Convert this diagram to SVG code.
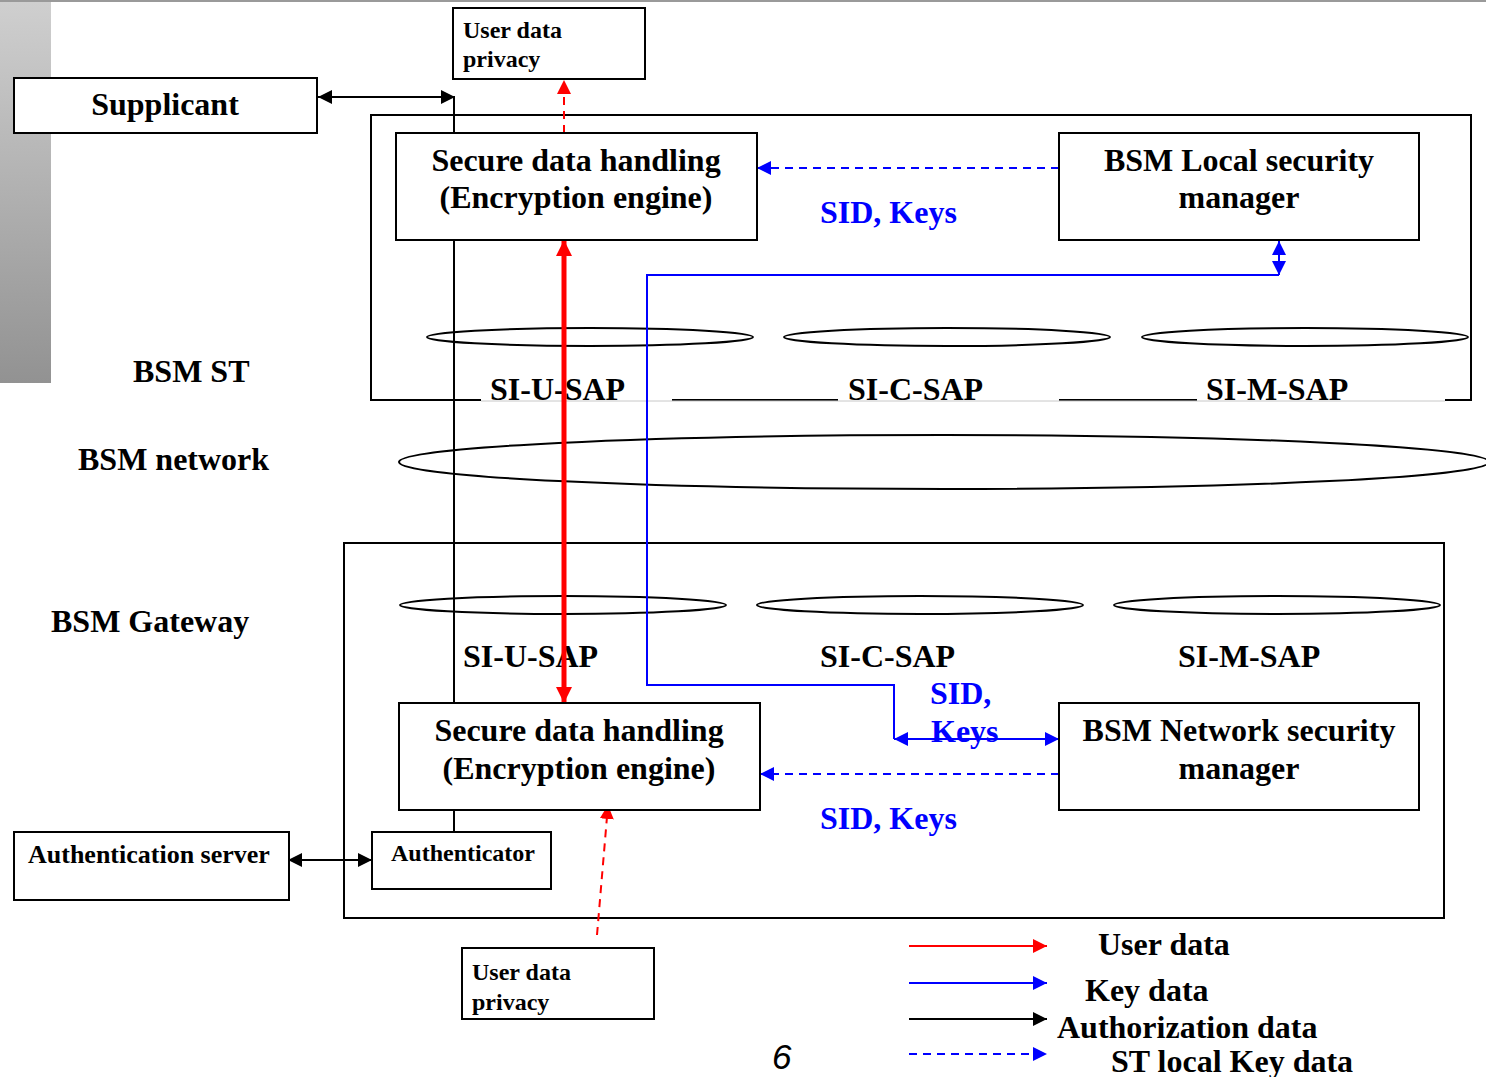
<svg xmlns="http://www.w3.org/2000/svg" width="1486" height="1077" viewBox="0 0 1486 1077">
<style>
.box{fill:#fff;stroke:#000;stroke-width:2}
.frame{fill:none;stroke:#000;stroke-width:2}
.ell{fill:none;stroke:#000;stroke-width:2}
.t{font-family:"Liberation Serif","Times New Roman",serif;font-weight:bold;font-size:32px;fill:#000}
.s{font-family:"Liberation Serif","Times New Roman",serif;font-weight:bold;font-size:24px;fill:#000}
.b{fill:#0000ff}
.mid{text-anchor:middle}
.blk{stroke:#000;stroke-width:2;fill:none}
.blu{stroke:#0000ff;stroke-width:2;fill:none}
.bld{stroke:#0000ff;stroke-width:2;fill:none;stroke-dasharray:8 6}
.red{stroke:#ff0000;stroke-width:2;fill:none}
.rdd{stroke:#ff0000;stroke-width:2;fill:none;stroke-dasharray:8 6}
</style>
<defs>
<linearGradient id="strip" x1="0" y1="0" x2="0" y2="1">
<stop offset="0" stop-color="#cfcfcf"/>
<stop offset="1" stop-color="#929292"/>
</linearGradient>
<marker id="mk" viewBox="0 0 14 14" refX="14" refY="7" markerWidth="14" markerHeight="14" markerUnits="userSpaceOnUse" orient="auto-start-reverse"><path d="M0,0 L14,7 L0,14 z" fill="#000"/></marker>
<marker id="mb" viewBox="0 0 14 14" refX="14" refY="7" markerWidth="14" markerHeight="14" markerUnits="userSpaceOnUse" orient="auto-start-reverse"><path d="M0,0 L14,7 L0,14 z" fill="#0000ff"/></marker>
<marker id="mr" viewBox="0 0 14 14" refX="14" refY="7" markerWidth="14" markerHeight="14" markerUnits="userSpaceOnUse" orient="auto-start-reverse"><path d="M0,0 L14,7 L0,14 z" fill="#ff0000"/></marker>
<marker id="mR" viewBox="0 0 16 16" refX="16" refY="8" markerWidth="16" markerHeight="16" markerUnits="userSpaceOnUse" orient="auto-start-reverse"><path d="M0,0 L16,8 L0,16 z" fill="#ff0000"/></marker>
</defs>
<rect x="0" y="0" width="1486" height="1077" fill="#fff"/>
<rect x="0" y="0" width="1486" height="2" fill="#9a9a9a"/>
<rect x="0" y="2" width="51" height="381" fill="url(#strip)"/>

<g id="labels">
<text class="t" x="133" y="382">BSM ST</text>
<text class="t" x="78" y="470">BSM network</text>
<text class="t" x="51" y="632">BSM Gateway</text>
</g>

<g id="bsm-st">
<path class="frame" d="M481,400 H371 V115 H1471 V400 H1445"/>
<line x1="672" y1="400" x2="838" y2="400" stroke="#000" stroke-width="2"/>
<line x1="1059" y1="400" x2="1197" y2="400" stroke="#000" stroke-width="2"/>
<line x1="481" y1="401" x2="1445" y2="401" stroke="#c8c8c8" stroke-width="1"/>
<ellipse class="ell" cx="590" cy="337" rx="163" ry="9"/>
<ellipse class="ell" cx="947" cy="337" rx="163" ry="9"/>
<ellipse class="ell" cx="1305" cy="337" rx="163" ry="9"/>
<text class="t" x="490" y="400">SI-U-SAP</text>
<text class="t" x="848" y="400">SI-C-SAP</text>
<text class="t" x="1206" y="400">SI-M-SAP</text>
</g>

<g id="bsm-network">
<ellipse class="ell" cx="944" cy="462" rx="545" ry="27"/>
</g>

<g id="bsm-gateway">
<rect class="frame" x="344" y="543" width="1100" height="375"/>
<ellipse class="ell" cx="563" cy="605" rx="163" ry="9"/>
<ellipse class="ell" cx="920" cy="605" rx="163" ry="9"/>
<ellipse class="ell" cx="1277" cy="605" rx="163" ry="9"/>
<text class="t" x="463" y="667">SI-U-SAP</text>
<text class="t" x="820" y="667">SI-C-SAP</text>
<text class="t" x="1178" y="667">SI-M-SAP</text>
</g>

<g id="connectors">
<line class="blk" x1="318" y1="97" x2="455" y2="97" marker-start="url(#mk)" marker-end="url(#mk)"/>
<line class="blk" x1="454" y1="97" x2="454" y2="832" stroke-width="1.5"/>
<line class="blk" x1="288" y1="860" x2="372" y2="860" marker-start="url(#mk)" marker-end="url(#mk)"/>
<line x1="564" y1="240" x2="564" y2="703" stroke="#ff0000" stroke-width="5" marker-start="url(#mR)" marker-end="url(#mR)"/>
<line class="rdd" x1="564" y1="133" x2="564" y2="80" marker-end="url(#mr)"/>
<line class="rdd" x1="597" y1="935" x2="608" y2="805" marker-end="url(#mr)"/>
<line class="bld" x1="1059" y1="168" x2="757" y2="168" marker-end="url(#mb)"/>
<line class="bld" x1="1059" y1="774" x2="760" y2="774" marker-end="url(#mb)"/>
<line class="blu" x1="1279" y1="241" x2="1279" y2="275" marker-start="url(#mb)" marker-end="url(#mb)"/>
<polyline class="blu" points="1279,275 647,275 647,685 894,685 894,739"/>
<line class="blu" x1="894" y1="739" x2="1059" y2="739" marker-start="url(#mb)" marker-end="url(#mb)"/>
<text class="t b" x="820" y="223">SID, Keys</text>
<text class="t b" x="930" y="704">SID,</text>
<text class="t b" x="931" y="742">Keys</text>
<text class="t b" x="820" y="829">SID, Keys</text>
</g>

<g id="supplicant">
<rect class="box" x="14" y="78" width="303" height="55"/>
<text class="t mid" x="165" y="115">Supplicant</text>
</g>

<g id="privacy-top">
<rect class="box" x="453" y="8" width="192" height="71"/>
<text class="s" x="463" y="38">User data</text>
<text class="s" x="463" y="67">privacy</text>
</g>

<g id="secure-st">
<rect class="box" x="396" y="133" width="361" height="107"/>
<text class="t mid" x="576" y="171">Secure data handling</text>
<text class="t mid" x="576" y="208">(Encryption engine)</text>
</g>

<g id="local-sec-mgr">
<rect class="box" x="1059" y="133" width="360" height="107"/>
<text class="t mid" x="1239" y="171">BSM Local security</text>
<text class="t mid" x="1239" y="208">manager</text>
</g>

<g id="secure-gw">
<rect class="box" x="399" y="703" width="361" height="107"/>
<text class="t mid" x="579" y="741">Secure data handling</text>
<text class="t mid" x="579" y="779">(Encryption engine)</text>
</g>

<g id="net-sec-mgr">
<rect class="box" x="1059" y="703" width="360" height="107"/>
<text class="t mid" x="1239" y="741">BSM Network security</text>
<text class="t mid" x="1239" y="779">manager</text>
</g>

<g id="auth-server">
<rect class="box" x="14" y="832" width="275" height="68"/>
<text class="s" x="28" y="863" style="font-size:26px">Authentication server</text>
</g>

<g id="authenticator">
<rect class="box" x="372" y="832" width="179" height="57"/>
<text class="s" x="391" y="861">Authenticator</text>
</g>

<g id="privacy-bottom">
<rect class="box" x="462" y="948" width="192" height="71"/>
<text class="s" x="472" y="980">User data</text>
<text class="s" x="472" y="1010">privacy</text>
</g>

<g id="legend">
<line class="red" x1="909" y1="946" x2="1047" y2="946" marker-end="url(#mr)"/>
<line class="blu" x1="909" y1="983" x2="1047" y2="983" marker-end="url(#mb)"/>
<line class="blk" x1="909" y1="1019" x2="1047" y2="1019" marker-end="url(#mk)"/>
<line class="bld" x1="909" y1="1054" x2="1047" y2="1054" marker-end="url(#mb)"/>
<text class="t" x="1098" y="955">User data</text>
<text class="t" x="1085" y="1001">Key data</text>
<text class="t" x="1057" y="1038">Authorization data</text>
<text class="t" x="1111" y="1072">ST local Key data</text>
</g>

<text x="772" y="1069" style="font-family:'Liberation Sans',Arial,sans-serif;font-style:italic;font-size:35px;fill:#000">6</text>
</svg>
